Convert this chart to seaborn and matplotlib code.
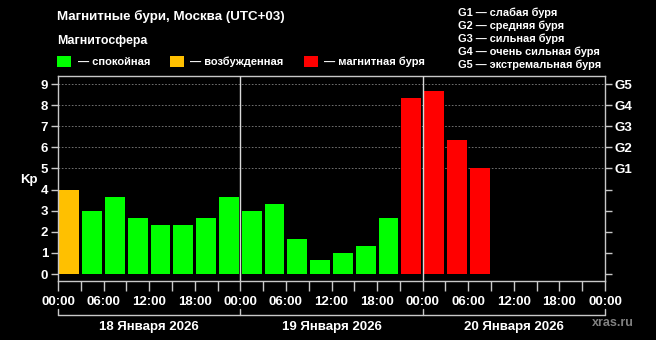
import matplotlib
matplotlib.use('Agg')
import matplotlib.pyplot as plt
import matplotlib.transforms as mtransforms
from matplotlib.patches import Patch
import seaborn as sns
import pandas as pd

# Kp index, 3-hour intervals starting 18 Jan 2026 00:00 (UTC+03)
hours = [1.5, 4.5, 7.5, 10.5, 13.5, 16.5, 19.5, 22.5,
         25.5, 28.5, 31.5, 34.5, 37.5, 40.5, 43.5, 46.5,
         49.5, 52.5, 55.5]
kp = [4.0, 3.0, 3.67, 2.67, 2.33, 2.33, 2.67, 3.67,
      3.0, 3.33, 1.67, 0.67, 1.0, 1.33, 2.67, 8.33,
      8.67, 6.33, 5.0]
state = ['возбужденная', 'спокойная', 'спокойная', 'спокойная', 'спокойная',
         'спокойная', 'спокойная', 'спокойная', 'спокойная', 'спокойная',
         'спокойная', 'спокойная', 'спокойная', 'спокойная', 'спокойная',
         'магнитная буря', 'магнитная буря', 'магнитная буря', 'магнитная буря']

states = ['спокойная', 'возбужденная', 'магнитная буря']
colors = ['#00ff00', '#ffc000', '#ff0000']
time_ticks = [0, 3, 6, 9, 12, 15, 18, 21, 24, 27, 30, 33, 36, 39, 42, 45, 48,
              51, 54, 57, 60, 63, 66, 69, 72]
time_labels = ['00:00', '', '06:00', '', '12:00', '', '18:00', '',
               '00:00', '', '06:00', '', '12:00', '', '18:00', '',
               '00:00', '', '06:00', '', '12:00', '', '18:00', '', '00:00']
day_bounds = [0, 24, 48, 72]
day_names = ['18 Января 2026', '19 Января 2026', '20 Января 2026']
g_levels = ['G1 — слабая буря', 'G2 — средняя буря', 'G3 — сильная буря',
            'G4 — очень сильная буря', 'G5 — экстремальная буря']
g_ticks = [0, 1, 2, 3, 4, 5, 6, 7, 8, 9]
g_labels = ['', '', '', '', '', 'G1', 'G2', 'G3', 'G4', 'G5']

df = pd.DataFrame({'hour': hours, 'kp': kp, 'state': state})
palette = dict(zip(states, colors))

sns.set_style('ticks')
plt.rcParams['font.family'] = ['Liberation Sans', 'DejaVu Sans']
plt.rcParams['font.weight'] = 'bold'
plt.rcParams['text.color'] = 'white'

axc = '#c8c8c8'
fig = plt.figure(figsize=(6.56, 3.4), dpi=100, facecolor='black')
ax = fig.add_axes([58 / 656, 59 / 340, 547 / 656, 205 / 340])
ax.set_facecolor('black')

# dotted storm-level grid
for g in g_ticks[5:]:
    ax.axhline(g, color='#808080', ls=(0, (2, 2)), lw=0.6, zorder=0)

sns.barplot(data=df, x='hour', y='kp', hue='state', palette=palette,
            saturation=1, native_scale=True, dodge=False, width=0.87,
            linewidth=0, legend=False, ax=ax, zorder=2)

for b in day_bounds[1:-1]:
    ax.axvline(b, color='#d8d8d8', lw=1, zorder=3)

ax.set_xlim(0, 72)
ax.set_ylim(-0.33, 9.38)
ax.set_xticks(time_ticks)
ax.set_xticklabels(time_labels)
ax.set_yticks(g_ticks)
ax.set_xlabel('')
ax.set_ylabel('Kp', rotation=0, color='white', fontsize=9.5,
              fontweight='bold', ha='center', va='center')
ax.yaxis.set_label_coords(-0.053, 0.493)
ax.tick_params(axis='x', length=7, width=1, color=axc, labelcolor='white',
               labelsize=9.5, pad=3.5)
ax.tick_params(axis='y', length=5, width=1, color=axc, labelcolor='white',
               labelsize=9.5, pad=2)
for s in ax.spines.values():
    s.set_color(axc)
    s.set_linewidth(1)

ax2 = ax.twinx()
ax2.set_ylim(ax.get_ylim())
ax2.set_yticks(g_ticks)
ax2.set_yticklabels(g_labels)
ax2.tick_params(axis='y', length=5, width=1, color=axc, labelcolor='white',
                labelsize=9.5, pad=2)
for s in ax2.spines.values():
    s.set_visible(False)

# day bracket under the time axis
trans = mtransforms.blended_transform_factory(ax.transData, ax.transAxes)
ax.plot([day_bounds[0], day_bounds[-1]], [-0.166, -0.166], color=axc, lw=1,
        transform=trans, clip_on=False)
for b in day_bounds:
    ax.plot([b, b], [-0.137, -0.166], color=axc, lw=1, transform=trans,
            clip_on=False)
for i, name in enumerate(day_names):
    mid = (day_bounds[i] + day_bounds[i + 1]) / 2
    ax.text(mid, -0.225, name, transform=trans, ha='center', va='center',
            fontsize=9.5, fontweight='bold', color='white')

fig.text(613 / 656, 1 - 323 / 340, 'xras.ru', color='#808080', ha='center',
         va='center', fontsize=9, fontweight='bold')

# header
fig.text(57 / 656, 1 - 20 / 340, 'Магнитные бури, Москва (UTC+03)',
         fontsize=9.6, fontweight='bold', va='baseline')
fig.text(57 / 656, 1 - 44 / 340, 'Магнитосфера', fontsize=8.9,
         fontweight='bold', va='baseline')
handles = [Patch(facecolor=c, edgecolor='none') for c in colors]
fig.legend(handles, ['— ' + s for s in states], loc='upper left',
           bbox_to_anchor=(57 / 656, 1 - 55.5 / 340), ncol=3, frameon=False,
           fontsize=8.0, labelcolor='white', handlelength=1.25,
           handleheight=1.2, handletextpad=0.6, columnspacing=1.8,
           borderpad=0, borderaxespad=0)
for i, line in enumerate(g_levels):
    fig.text(458 / 656, 1 - (16 + 13 * i) / 340, line, fontsize=7.9,
             fontweight='bold', va='baseline')

fig.savefig('out.png', dpi=100, facecolor='black')
